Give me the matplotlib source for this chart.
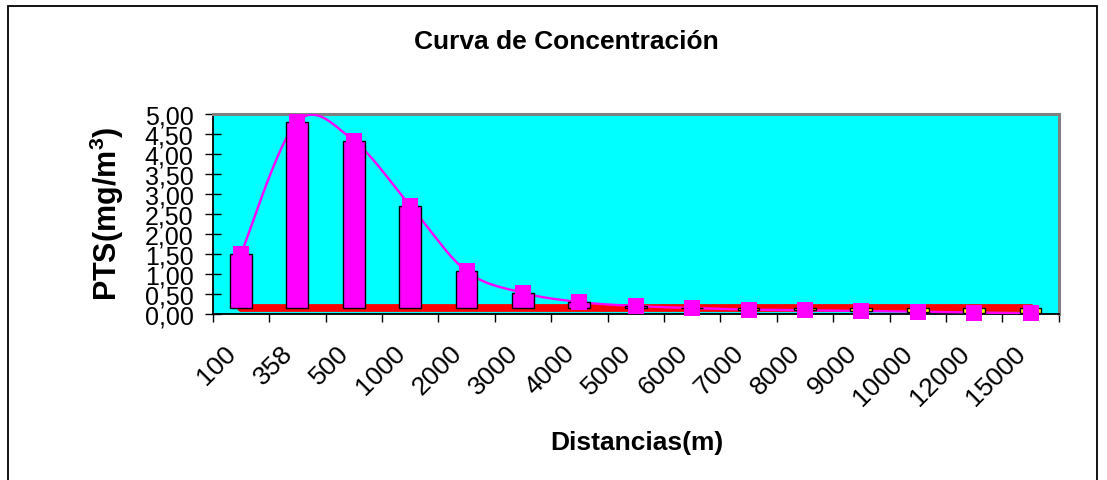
import matplotlib
matplotlib.use("Agg")
import matplotlib.pyplot as plt
import matplotlib.transforms as mtransforms
from matplotlib.patches import Rectangle
import numpy as np

plt.rcParams['font.family'] = ['Liberation Sans', 'DejaVu Sans']
plt.rcParams['mathtext.fontset'] = 'custom'
plt.rcParams['mathtext.rm'] = 'Liberation Sans'
plt.rcParams['mathtext.bf'] = 'Liberation Sans:bold'
plt.rcParams['mathtext.default'] = 'bf'

# datos
distancias = ['100', '358', '500', '1000', '2000', '3000', '4000', '5000',
              '6000', '7000', '8000', '9000', '10000', '12000', '15000']
pts = [1.50, 4.81, 4.33, 2.71, 1.07, 0.53, 0.30, 0.20,
       0.15, 0.11, 0.095, 0.075, 0.06, 0.035, 0.015]
limite = [0.15] * 15
y_ticks = [0.0, 0.5, 1.0, 1.5, 2.0, 2.5, 3.0, 3.5, 4.0, 4.5, 5.0]


# curva suavizada tipo Excel (Catmull-Rom como Bezier)
def suavizar(xs, ys, n=40):
    xs = np.asarray(xs, float)
    ys = np.asarray(ys, float)
    out_x, out_y = [], []
    m = len(xs)
    for i in range(m - 1):
        i0 = max(i - 1, 0)
        i3 = min(i + 2, m - 1)
        p0 = np.array([xs[i0], ys[i0]])
        p1 = np.array([xs[i], ys[i]])
        p2 = np.array([xs[i + 1], ys[i + 1]])
        p3 = np.array([xs[i3], ys[i3]])
        c1 = p1 + (p2 - p0) / 6
        c2 = p2 - (p3 - p1) / 6
        t = np.linspace(0, 1, n)[:, None]
        b = ((1 - t) ** 3) * p1 + 3 * ((1 - t) ** 2) * t * c1 + 3 * (1 - t) * t ** 2 * c2 + t ** 3 * p2
        out_x.extend(b[:, 0])
        out_y.extend(b[:, 1])
    return out_x, out_y


W, H = 1107, 481
fig = plt.figure(figsize=(W / 100, H / 100), dpi=100)
fig.patch.set_facecolor('white')

ax = fig.add_axes([212.7 / W, (H - 315) / H, 846 / W, 200 / H])
ax.set_facecolor('#00FFFF')

x = np.arange(len(distancias))
base = limite[0]

# banda roja
ax.plot(x, limite, color='#FF0000', lw=5.6, solid_capstyle='round', zorder=2)

# linea suavizada
sx, sy = suavizar(x, pts)
ax.plot(sx, sy, color='#FF00FF', lw=1.7, zorder=3)

# barras
alturas = [v - base for v in pts]
colores = ['#FF00FF' if v >= base else '#FFFF00' for v in pts]
ax.bar(x, alturas, bottom=base, width=0.39, color=colores, edgecolor='black', linewidth=1.0, zorder=4)

# marcadores (sin recortar en el eje)
ax.plot(x, pts, ls='none', marker='s', ms=11.5, mfc='#FF00FF', mec='#FF00FF', mew=0,
        zorder=6, clip_on=False)

ax.set_xlim(-0.5, len(distancias) - 0.5)
ax.set_ylim(0, 5)

ax.set_yticks(y_ticks)
ax.set_yticklabels([('%.2f' % v).replace('.', ',') for v in y_ticks], fontsize=18)
ax.tick_params(axis='y', direction='inout', length=11.5, width=1, pad=8)

ax.set_xticks(x)
ax.set_xticklabels(distancias, fontsize=19, rotation=45, ha='right', va='top', rotation_mode='anchor')
ax.set_xticks(np.arange(-0.5, len(distancias), 1), minor=True)
ax.tick_params(axis='x', which='major', length=0, pad=19)
ax.tick_params(axis='x', which='minor', direction='out', length=6, width=1)
desp = mtransforms.ScaledTranslation(-0.17, 0, fig.dpi_scale_trans)
for lbl in ax.get_xticklabels():
    lbl.set_transform(lbl.get_transform() + desp)

for lado in ['top', 'right']:
    ax.spines[lado].set_color('#808080')
    ax.spines[lado].set_linewidth(2.2)
for lado in ['left', 'bottom']:
    ax.spines[lado].set_color('black')
    ax.spines[lado].set_linewidth(1.3)

fig.text(566 / W, 1 - 42 / H, 'Curva de Concentración', fontsize=19, fontweight='bold',
         ha='center', va='center')
fig.text(637 / W, 1 - 443 / H, 'Distancias(m)', fontsize=19, fontweight='bold',
         ha='center', va='center')
fig.text(107 / W, 1 - 214 / H, r'PTS(mg/m$^{3}$)', fontsize=22, fontweight='bold',
         rotation=90, ha='center', va='center')

# marco exterior
fig.patches.append(Rectangle((8 / W, -0.1), (1097 - 8) / W, 1.1 - 7 / H, transform=fig.transFigure,
                             fill=False, edgecolor='black', linewidth=1.3))

fig.savefig('out.png', dpi=100)
